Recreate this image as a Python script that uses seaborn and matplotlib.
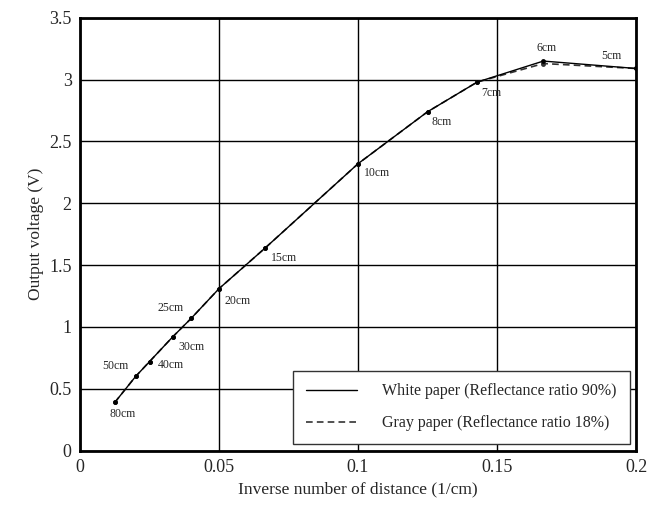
import numpy as np
import matplotlib
matplotlib.use("Agg")
import matplotlib.pyplot as plt
import seaborn as sns

# jarak (cm) dan tegangan keluaran (V)
jarak_cm = [80, 50, 40, 30, 25, 20, 15, 10, 8, 7, 6, 5]
tegangan_putih = [0.39, 0.60, 0.72, 0.92, 1.07, 1.31, 1.64, 2.32, 2.74, 2.98, 3.15, 3.09]
tegangan_abu = [0.39, 0.60, 0.72, 0.92, 1.07, 1.31, 1.64, 2.32, 2.74, 2.98, 3.13, 3.09]
label_jarak = ["80cm", "50cm", "40cm", "30cm", "25cm", "20cm", "15cm",
               "10cm", "8cm", "7cm", "6cm", "5cm"]
# offset label (points) supaya tidak menimpa garis
offset_label = [(-4, -13), (-24, 3), (6, -7), (4, -12), (-24, 3), (4, -13),
                (4, -12), (4, -11), (3, -12), (3, -12), (-5, 5), (-25, 5)]

inverse = 1.0 / np.array(jarak_cm)

sns.set_theme(style="white")
plt.rcParams["font.family"] = ["Liberation Serif", "DejaVu Serif"]

fig = plt.figure(figsize=(6.51, 5.08), dpi=100)
ax = fig.add_axes([0.123, 0.113, 0.854, 0.852])

sns.lineplot(x=inverse, y=tegangan_abu, ax=ax, color="#333333", linewidth=1.2,
             linestyle=(0, (4, 2.5)), marker="o", markersize=3.5,
             markeredgewidth=0, label="Gray paper (Reflectance ratio 18%)")
sns.lineplot(x=inverse, y=tegangan_putih, ax=ax, color="black", linewidth=1.0,
             marker="o", markersize=3.5, markeredgewidth=0,
             label="White paper (Reflectance ratio 90%)")

for xi, yi, lbl, off in zip(inverse, tegangan_putih, label_jarak, offset_label):
    ax.annotate(lbl, (xi, yi), xytext=off, textcoords="offset points",
                fontsize=8.5, ha="left", va="bottom")

ax.set_xlim(0, 0.2)
ax.set_ylim(0, 3.5)
ax.set_xticks([0, 0.05, 0.1, 0.15, 0.2])
ax.set_xticklabels(["0", "0.05", "0.1", "0.15", "0.2"])
ax.set_yticks([0, 0.5, 1, 1.5, 2, 2.5, 3, 3.5])
ax.set_yticklabels(["0", "0.5", "1", "1.5", "2", "2.5", "3", "3.5"])
ax.tick_params(labelsize=13, length=0, pad=6)
ax.grid(True, color="black", linewidth=1.0)
for sp in ax.spines.values():
    sp.set_color("black")
    sp.set_linewidth(2)

ax.set_xlabel("Inverse number of distance (1/cm)", fontsize=12.5)
ax.set_ylabel("Output voltage (V)", fontsize=12.5)

handles, labels = ax.get_legend_handles_labels()
leg = ax.legend(handles[::-1], labels[::-1], loc="lower right", fontsize=11.5,
                frameon=True, fancybox=False, framealpha=1, edgecolor="#333333",
                borderaxespad=0.4, handlelength=3.2, labelspacing=1.0,
                borderpad=0.8, handletextpad=1.6)
for h in leg.get_lines():
    h.set_marker("")
leg.get_frame().set_linewidth(1.0)

fig.savefig("out.png", dpi=100)
